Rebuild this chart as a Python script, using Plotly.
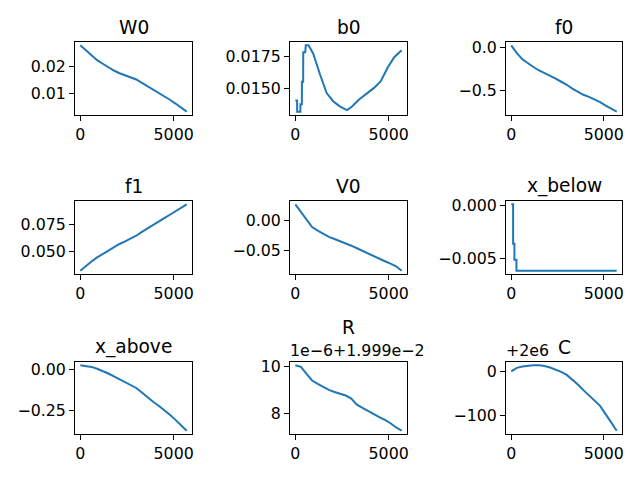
import plotly.graph_objects as go

# iteration index where each value was read
steps = [0, 300, 600, 900, 1200, 1500, 1800, 2100, 2400, 2700,
         3000, 3300, 3600, 3900, 4200, 4500, 4800, 5100, 5400, 5700]

W0 = [0.0278, 0.0260, 0.0241, 0.0223, 0.0210, 0.0197, 0.0185, 0.0175, 0.0168, 0.0160,
      0.0152, 0.0139, 0.0127, 0.0115, 0.0102, 0.0090, 0.0077, 0.0063, 0.0048, 0.0033]
f0 = [0.020, -0.070, -0.140, -0.190, -0.230, -0.270, -0.300, -0.330, -0.365, -0.400,
      -0.435, -0.480, -0.520, -0.550, -0.575, -0.605, -0.635, -0.675, -0.715, -0.745]
f1 = [0.0320, 0.0365, 0.0405, 0.0443, 0.0475, 0.0505, 0.0540, 0.0568, 0.0592, 0.0618,
      0.0645, 0.0680, 0.0714, 0.0747, 0.0778, 0.0808, 0.0840, 0.0875, 0.0905, 0.0937]
V0 = [0.0275, 0.0150, 0.0019, -0.0105, -0.0166, -0.0224, -0.0271, -0.0306, -0.0341, -0.0379,
      -0.0418, -0.0461, -0.0506, -0.0553, -0.0594, -0.0636, -0.0678, -0.0719, -0.0763, -0.0836]
x_above = [0.024, 0.021, 0.014, 0.003, -0.011, -0.026, -0.044, -0.062, -0.077, -0.095,
           -0.114, -0.142, -0.172, -0.198, -0.222, -0.248, -0.277, -0.308, -0.340, -0.374]
R = [0.02000007, 0.02000000, 0.01999970, 0.01999942, 0.01999928, 0.01999915, 0.01999902,
     0.01999893, 0.01999886, 0.01999878, 0.01999865, 0.01999839, 0.01999825, 0.01999811,
     0.01999797, 0.01999786, 0.01999774, 0.01999760, 0.01999742, 0.01999728]
C = [2000000, 2000008, 2000011, 2000013, 2000014, 2000014, 2000012.5, 2000009, 2000004, 1999999,
     1999992, 1999982, 1999970, 1999957, 1999945, 1999933, 1999921, 1999902, 1999884, 1999864]

b0_steps = [0, 95, 100, 270, 275, 350, 355, 420, 425, 530, 560, 700, 800, 960, 1320,
            1680, 2040, 2400, 2770, 3040, 3400, 3860, 4220, 4580, 4950, 5300, 5700]
b0 = [0.01407, 0.01407, 0.01319, 0.01319, 0.01377, 0.01377, 0.01553, 0.01553, 0.01784,
      0.01784, 0.01838, 0.01838, 0.01815, 0.01772, 0.01612, 0.01465, 0.01399, 0.01359,
      0.01332, 0.01359, 0.01412, 0.01465, 0.01505, 0.01558, 0.01665, 0.01745, 0.01800]

x_below_steps = [0, 100, 170, 280, 5700]
x_below = [0.00013, -0.0036, -0.0051, -0.00613, -0.00613]

xticks = [0, 5000]

# title, x, y, y tick values, y tick labels, line shape
panels = [
    ("W0", steps, W0, [0.01, 0.02], ["0.01", "0.02"], "linear"),
    ("b0", b0_steps, b0, [0.015, 0.0175], ["0.0150", "0.0175"], "linear"),
    ("f0", steps, f0, [-0.5, 0.0], ["\u22120.5", "0.0"], "linear"),
    ("f1", steps, f1, [0.05, 0.075], ["0.050", "0.075"], "linear"),
    ("V0", steps, V0, [-0.05, 0.0], ["\u22120.05", "0.00"], "linear"),
    ("x_below", x_below_steps, x_below, [-0.005, 0.0], ["\u22120.005", "0.000"], "hv"),
    ("x_above", steps, x_above, [-0.25, 0.0], ["\u22120.25", "0.00"], "linear"),
    ("R", steps, R, [0.019998, 0.020000], ["8", "10"], "linear"),
    ("C", steps, C, [1999900, 2000000], ["\u2212100", "0"], "linear"),
]

# page body has an 8px margin, so the figure is a bit smaller and boxes are shifted
PAGE = 8
W, H = 640 - PAGE, 480 - PAGE
# axes boxes in screen pixels (left, right) and (top, bottom)
cols = [(75, 192), (290, 407), (506, 622)]
rows = [(42, 115), (201, 274), (362, 434)]
FONT = "DejaVu Sans"
TICK_SIZE = 15.8
TITLE_SIZE = 18.6

fig = go.Figure()
annotations = []
axis_common = dict(showgrid=False, zeroline=False, showline=True, mirror=True,
                   linecolor="black", linewidth=1, ticks="outside", ticklen=5,
                   tickwidth=1, tickcolor="black", automargin=False,
                   tickfont=dict(family=FONT, size=TICK_SIZE, color="black"))

for i, (name, xs, ys, tv, tt, shape) in enumerate(panels):
    r, c = divmod(i, 3)
    n = i + 1
    fig.add_trace(go.Scatter(x=xs, y=ys, mode="lines", line_shape=shape,
                             line=dict(color="#1f77b4", width=2),
                             xaxis="x%d" % n, yaxis="y%d" % n, showlegend=False))
    x0, x1 = (cols[c][0] - PAGE) / W, (cols[c][1] - PAGE) / W
    y0, y1 = 1 - (rows[r][1] - PAGE) / H, 1 - (rows[r][0] - PAGE) / H
    lo, hi = min(ys), max(ys)
    pad = 0.05 * (hi - lo)
    xlo, xhi = min(xs), max(xs)
    xpad = 0.05 * (xhi - xlo)
    fig.update_layout({
        "xaxis%d" % n: dict(axis_common, domain=[x0, x1], anchor="y%d" % n,
                            range=[xlo - xpad, xhi + xpad],
                            tickvals=xticks, ticktext=[str(t) for t in xticks]),
        "yaxis%d" % n: dict(axis_common, domain=[y0, y1], anchor="x%d" % n,
                            range=[lo - pad, hi + pad], tickvals=tv, ticktext=tt),
    })
    annotations.append(dict(text=name, x=(x0 + x1) / 2, y=y1, xref="paper", yref="paper",
                            xanchor="center", yanchor="bottom", showarrow=False,
                            yshift=22 if name == "R" else 2,
                            font=dict(family=FONT, size=TITLE_SIZE, color="black")))
    if name == "R":
        offset = "1e\u22126+1.999e\u22122"
    elif name == "C":
        offset = "+2e6"
    else:
        offset = None
    if offset:
        annotations.append(dict(text=offset, x=x0, y=y1, xref="paper", yref="paper",
                                xanchor="left", yanchor="bottom", showarrow=False,
                                xshift=-2, yshift=0,
                                font=dict(family=FONT, size=TICK_SIZE, color="black")))

fig.update_layout(width=W, height=H, margin=dict(l=0, r=0, t=0, b=0),
                  paper_bgcolor="white", plot_bgcolor="white",
                  annotations=annotations, showlegend=False)

fig.write_html("out.html")
